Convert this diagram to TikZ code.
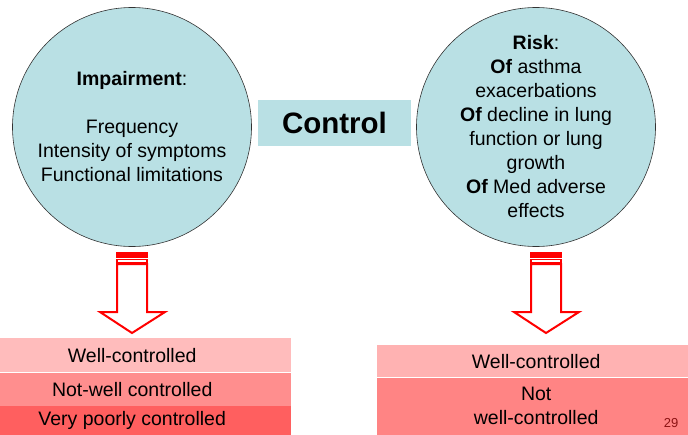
\documentclass[tikz,border=0pt]{standalone}
\usepackage{fontspec}
\setmainfont{Liberation Sans}
\usetikzlibrary{shapes.geometric,calc}
\definecolor{lagoon}{RGB}{185,224,228}
\definecolor{pinkA}{RGB}{255,188,188}
\definecolor{pinkB}{RGB}{255,142,142}
\definecolor{pinkC}{RGB}{255,95,95}
\definecolor{pinkD}{RGB}{255,178,178}
\definecolor{pinkE}{RGB}{255,132,132}
\definecolor{pageno}{RGB}{140,20,20}
\newcommand{\stripedarrow}[1]{%
  \fill[red] ($(#1)+(-16,0)$) rectangle ($(#1)+(16,5.5)$);
  \draw[red,line width=1.6pt,fill=white] ($(#1)+(-15.2,7.5)$) rectangle ($(#1)+(15.2,11)$);
  \draw[red,line width=2pt,fill=white] ($(#1)+(-15,12)$) -- ++(0,48) -- ++(-17,0)
     -- ($(#1)+(0,81)$) -- ($(#1)+(33,60)$) -- ++(-18,0) -- ++(0,-48) -- cycle;}
\begin{document}
\begin{tikzpicture}[x=1pt,y=-1pt,font=\fontsize{19.5}{24}\selectfont,
  bubble/.style={circle,draw=black!80,line width=0.6pt,fill=lagoon,
    minimum size=239pt,align=center,inner sep=0pt},
  band/.style={inner sep=0pt,align=center,anchor=north west,minimum width=318pt}]
\useasboundingbox (0,0) rectangle (688,434);
\clip (0,0) rectangle (688,434);
\node[bubble] (imp) at (132,127){\textbf{Impairment}:\\[24pt]Frequency\\Intensity of symptoms\\Functional limitations};
\node[bubble] (risk) at (536,127){\textbf{Risk}:\\\textbf{Of} asthma\\exacerbations\\\textbf{Of} decline in lung\\function or lung\\growth\\\textbf{Of} Med adverse\\effects};
\node[fill=lagoon,minimum width=153pt,minimum height=46pt,inner sep=0pt,
  font=\fontsize{29.5}{34}\selectfont\bfseries] (ctrl) at (334.5,123){Control};
% block arrows under the bubbles
\coordinate (la) at (132,252);
\coordinate (ra) at (546,252);
\stripedarrow{la}
\stripedarrow{ra}
% impairment levels (bands run off the left edge)
\node[band,fill=pinkA,minimum height=34pt] (lwell) at (-27,338){Well-controlled};
\node[band,fill=pinkB,minimum height=33pt] (lnot) at (lwell.south west){Not-well controlled};
\node[band,fill=pinkC,minimum height=29pt] (lpoor) at (lnot.south west){Very poorly controlled};
% risk levels
\node[band,fill=pinkD,minimum height=32pt] (rwell) at (377,345){Well-controlled};
\node[band,fill=pinkE,minimum height=57pt] (rnot) at (rwell.south west){Not\\well-controlled};
\node[pageno,font=\fontsize{13}{15}\selectfont] (num) at (671,423){29};
\end{tikzpicture}
\end{document}
